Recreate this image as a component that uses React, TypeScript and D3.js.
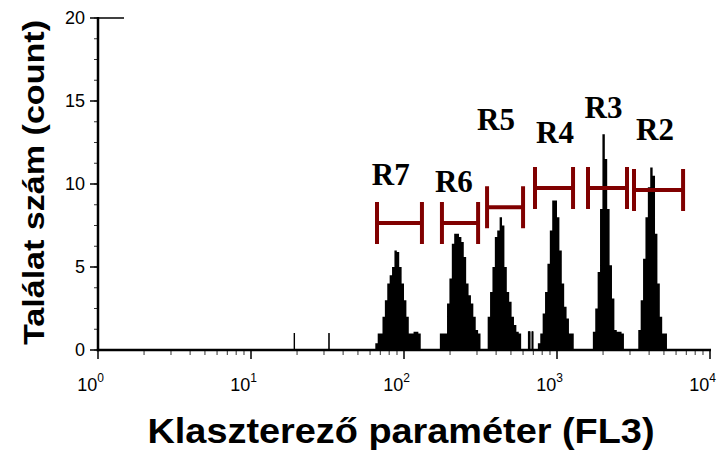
import React from 'react';
import * as d3 from 'd3';

const CHANNELS = 256;
const EVENT_CHANNELS = 1024;
const DECADES = 4;

const yTicks = [0, 5, 10, 15, 20];
const yMinorStep = 1.25;
const xDecades = [0, 1, 2, 3, 4];
const xMinorMultipliers = [2, 3, 4, 5, 6, 7, 8, 9];

const peakNames = ['R7', 'R6', 'R5', 'R4', 'R3', 'R2'];
const peakStart = [116, 143, 163, 184, 207, 226];
const peakR7 = [0.4, 1, 1, 2, 3, 4, 4.5, 5, 6, 5.9, 5, 4, 3, 2, 1, 1, 1.1, 1.1, 1];
const peakR6 = [1, 1, 1, 2.8, 4.3, 6.4, 7, 7, 6.8, 6.5, 5.6, 4, 3.3, 2.8, 2, 1.2, 1];
const peakR5 = [2, 3.5, 5, 6.8, 7.2, 8, 7.5, 5, 3.5, 2.9, 2, 1.5, 1.1, 1];
const peakR4 = [0.4, 1, 2.2, 3.5, 5.2, 7.2, 9, 9, 8, 6, 4, 2.6, 1.9, 1, 1];
const peakR3 = [1.1, 2.5, 4.7, 8.5, 13, 11.5, 8.5, 5.1, 3.1, 1.2, 1.1, 1.1, 1];
const peakR2 = [1.2, 3, 5.5, 8, 9.8, 11, 10.5, 7, 4, 2, 1, 1];
const peakCounts = [peakR7, peakR6, peakR5, peakR4, peakR3, peakR2];

const eventChannels = [328, 386, 720, 721, 722, 726, 727];
const eventCounts = [1, 1, 1.1, 1.1, 1.1, 1.1, 1.1];

const gateLow = [66.6, 177, 349, 718, 1595, 3187];
const gateHigh = [131, 305, 600, 1273, 2868, 6668];
const gateLevel = [7.65, 7.65, 8.6, 9.76, 9.76, 9.64];
const labelX = [82, 212, 399, 970, 2014, 4372];
const labelY = [9.94, 9.52, 13.25, 12.47, 13.98, 12.65];

const chVal = (ch: number, n: number) => Math.pow(10, (DECADES * ch) / n);

export default function App() {
  const W = 723, H = 453;
  const x = d3.scaleLog().domain([1, 10000]).range([98, 710]);
  const y = d3.scaleLinear().domain([0, 20]).range([350, 18]);
  const sans = '"Liberation Sans", Arial, sans-serif';
  const serif = '"Liberation Serif", "Times New Roman", serif';
  const red = '#800000';

  const area = d3
    .area<[number, number]>()
    .x((d) => x(d[0]))
    .y0(y(0))
    .y1((d) => y(d[1]))
    .curve(d3.curveStepAfter);

  const peakPaths = peakCounts.map((counts, p) => {
    const pts: [number, number][] = counts.map((c, i) => [chVal(peakStart[p] + i, CHANNELS), c]);
    pts.push([chVal(peakStart[p] + counts.length, CHANNELS), 0]);
    return area(pts) || '';
  });

  const minorY: number[] = [];
  for (let v = 0; v <= 20.001; v += yMinorStep) minorY.push(v);

  const minorX: number[] = [];
  xDecades.slice(0, -1).forEach((k) => xMinorMultipliers.forEach((m) => minorX.push(m * Math.pow(10, k))));

  return (
    <svg width={W} height={H} style={{ position: 'absolute', left: 0, top: 0, background: '#fff' }}>
      <rect width={W} height={H} fill="#fff" />
      {/* histogram */}
      {peakPaths.map((d, i) => (
        <path key={'p' + i} d={d} fill="#000" />
      ))}
      {eventChannels.map((ch, i) => (
        <rect
          key={'e' + i}
          x={x(chVal(ch, EVENT_CHANNELS))}
          width={x(chVal(ch + 1, EVENT_CHANNELS)) - x(chVal(ch, EVENT_CHANNELS))}
          y={y(eventCounts[i])}
          height={y(0) - y(eventCounts[i])}
          fill="#000"
          stroke="#000"
          strokeWidth={0.8}
        />
      ))}
      {/* y minor ticks */}
      {minorY.map((v, i) => (
        <line key={'ym' + i} x1={94} x2={98} y1={y(v)} y2={y(v)} stroke="#333" strokeWidth={1} />
      ))}
      {yTicks.map((v) => (
        <g key={'yt' + v}>
          <line x1={90} x2={98} y1={y(v)} y2={y(v)} stroke="#000" strokeWidth={1.5} />
          <text x={85} y={y(v)} dy="0.36em" textAnchor="end" fontFamily={sans} fontSize={18} fill="#000">
            {v}
          </text>
        </g>
      ))}
      {/* x minor ticks */}
      {minorX.map((v, i) => (
        <line key={'xm' + i} x1={x(v)} x2={x(v)} y1={350} y2={355} stroke="#333" strokeWidth={1} />
      ))}
      {xDecades.map((k) => {
        const px = x(Math.pow(10, k));
        return (
          <text key={'xt' + k} x={px + 6} y={391} textAnchor="end" fontFamily={sans} fontSize={18} fill="#000">
            10<tspan dy={-9} fontSize={12}>{k}</tspan>
          </text>
        );
      })}
      {xDecades.map((k) => {
        const px = x(Math.pow(10, k));
        return <line key={'xl' + k} x1={px} x2={px} y1={350} y2={359} stroke="#000" strokeWidth={1.5} />;
      })}
      {/* axes */}
      <line x1={98} x2={98} y1={17} y2={351.2} stroke="#000" strokeWidth={2.5} />
      <line x1={98} x2={124} y1={18} y2={18} stroke="#000" strokeWidth={1.5} />
      <line x1={96.8} x2={711} y1={350} y2={350} stroke="#000" strokeWidth={2.5} />
      {/* gates */}
      {peakNames.map((name, i) => {
        const x1 = x(gateLow[i]);
        const x2 = x(gateHigh[i]);
        const gy = y(gateLevel[i]);
        return (
          <g key={'g' + i} stroke={red} strokeWidth={4} fill="none">
            <line x1={x1} x2={x2} y1={gy} y2={gy} />
            <line x1={x1} x2={x1} y1={gy - 21} y2={gy + 21} />
            <line x1={x2} x2={x2} y1={gy - 21} y2={gy + 21} />
          </g>
        );
      })}
      {peakNames.map((name, i) => (
        <text
          key={'l' + i}
          x={x(labelX[i])}
          y={y(labelY[i])}
          textAnchor="middle"
          fontFamily={serif}
          fontWeight="bold"
          fontSize={31}
          fill="#000"
        >
          {name}
        </text>
      ))}
      {/* titles */}
      <text
        transform={`translate(44, 182.5) rotate(-90)`}
        textAnchor="middle"
        fontFamily={sans}
        fontWeight="bold"
        fontSize={30}
        textLength={325}
        lengthAdjust="spacingAndGlyphs"
        fill="#000"
      >
        Találat szám  (count)
      </text>
      <text
        x={401}
        y={443}
        textAnchor="middle"
        fontFamily={sans}
        fontWeight="bold"
        fontSize={35}
        textLength={507}
        lengthAdjust="spacingAndGlyphs"
        fill="#000"
      >
        Klaszterező paraméter (FL3)
      </text>
    </svg>
  );
}
